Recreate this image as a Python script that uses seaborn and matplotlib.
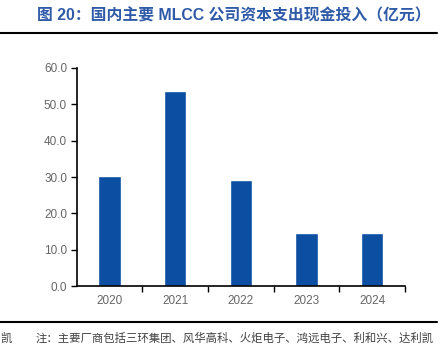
import pandas as pd
import seaborn as sns
import matplotlib.pyplot as plt
from matplotlib.lines import Line2D

# 数据
years = ['2020', '2021', '2022', '2023', '2024']
capex = [30.2, 53.8, 29.2, 14.7, 14.5]

df = pd.DataFrame({'年份': years, '资本支出': capex})

sns.set_style('white')
plt.rcParams['font.family'] = ['Liberation Sans', 'Noto Sans CJK SC', 'DejaVu Sans']

fig = plt.figure(figsize=(4.44, 3.54), dpi=100)
ax = fig.add_axes([0.173, 0.192, 0.739, 0.616])

sns.barplot(data=df, x='年份', y='资本支出', color='#0B4EA2', width=0.34,
            saturation=1, ax=ax)

ax.set_ylim(0, 60)
ax.set_xlim(-0.5, 4.5)
ax.set_yticks(range(0, 61, 10))
ax.set_yticklabels([f'{v:.1f}' for v in range(0, 61, 10)])
ax.set_xlabel('')
ax.set_ylabel('')

for s in ['top', 'right']:
    ax.spines[s].set_visible(False)
for s in ['left', 'bottom']:
    ax.spines[s].set_color('black')
    ax.spines[s].set_linewidth(1.2)

ax.tick_params(axis='y', direction='out', length=4, width=1, color='black',
               labelsize=8.5, labelcolor='#666666', left=True, pad=3)
ax.tick_params(axis='x', bottom=False, labelsize=8.5, labelcolor='#666666', pad=3)
# x 轴分隔刻度
ax.set_xticks([i + 0.5 for i in range(len(years))], minor=True)
ax.tick_params(axis='x', which='minor', bottom=True, direction='out',
               length=4, width=1, color='black')

# 标题与横线
fig.text(0.083, 0.956, '图 20：国内主要 MLCC 公司资本支出现金投入（亿元）',
         fontsize=11.4, fontweight='bold', color='#2E5AA8', va='center')
fig.add_artist(Line2D([0, 0.985], [0.907, 0.907], color='black', lw=1.5))
fig.add_artist(Line2D([0, 0.985], [0.09, 0.09], color='black', lw=1.5))

fig.text(0.081, 0.045, '注：主要厂商包括三环集团、风华高科、火炬电子、鸿远电子、利和兴、达利凯',
         fontsize=8.2, color='#404040', va='center')
fig.text(0.0, 0.045, '凯', fontsize=8.2, color='#404040', va='center')

fig.savefig('out.png', dpi=100)
